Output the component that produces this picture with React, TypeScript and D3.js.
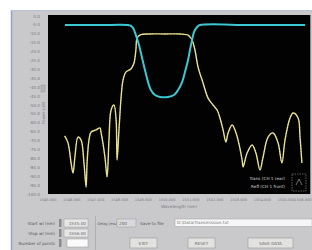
import * as d3 from 'd3';

// wavelength (nm) / power (dB)
const transWl = [1545.71, 1547.18, 1548.36, 1548.48, 1548.57, 1548.69, 1548.82, 1548.95, 1549.07, 1549.2, 1549.32, 1549.49, 1549.7, 1550.04, 1550.29, 1550.46, 1550.63, 1550.75, 1550.88, 1550.96, 1551.05, 1551.13, 1551.26, 1551.38, 1553.48, 1555.79];
const transDb = [-5.1, -5.1, -5.1, -5.6, -6.7, -10.7, -16.3, -23.6, -30.3, -37.1, -41.6, -44.4, -45.5, -45.5, -44.4, -41.6, -37.1, -31.5, -24.7, -19.1, -13.5, -9.0, -6.2, -5.1, -5.1, -5.1];

const reflWl = [1545.7, 1545.84, 1545.97, 1546.05, 1546.13, 1546.26, 1546.39, 1546.51, 1546.6, 1546.64, 1546.72, 1546.81, 1547.02, 1547.18, 1547.23, 1547.39, 1547.48, 1547.56, 1547.65, 1547.77, 1547.86, 1547.9, 1547.98, 1548.07, 1548.15, 1548.27, 1548.48, 1548.61, 1548.69, 1548.74, 1548.86, 1549.28, 1549.91, 1550.54, 1550.88, 1550.96, 1551.05, 1551.17, 1551.3, 1551.51, 1551.72, 1551.93, 1552.1, 1552.22, 1552.35, 1552.47, 1552.56, 1552.73, 1552.85, 1552.98, 1553.15, 1553.19, 1553.36, 1553.57, 1553.73, 1553.9, 1554.03, 1554.24, 1554.45, 1554.66, 1554.82, 1554.95, 1555.16, 1555.29, 1555.5, 1555.58, 1555.66];
const reflDb = [-67.4, -71.3, -82.6, -88.2, -79.2, -68.0, -69.7, -82.6, -96.1, -82.6, -69.7, -65.2, -64.0, -62.9, -65.7, -79.2, -90.4, -69.7, -52.8, -50.0, -58.4, -80.9, -64.0, -45.5, -36.0, -31.5, -29.8, -26.4, -19.1, -12.4, -10.7, -10.1, -10.1, -10.1, -10.7, -11.8, -13.5, -19.1, -28.7, -37.6, -46.1, -50.0, -52.8, -57.3, -64.0, -70.8, -65.7, -61.2, -64.0, -69.7, -80.9, -84.8, -77.0, -72.5, -77.0, -86.5, -79.2, -68.0, -65.7, -71.3, -82.6, -69.7, -57.3, -54.5, -57.3, -68.0, -82.6];

const xTicks = [1545, 1546, 1547, 1548, 1549, 1550, 1551, 1552, 1553, 1554, 1555, 1556];
const yTicks = d3.range(0, -101, -5);

const legendLabels = ['Trans (CH 1 rear)', 'Refl (CH 1 front)'];

const plot = { left: 48, top: 15, width: 262, height: 179 };

export default function App() {
  const x = d3.scaleLinear().domain([1545, 1556]).range([plot.left, plot.left + plot.width]);
  const y = d3.scaleLinear().domain([0, -100]).range([16, 194]);

  const line = d3.line<[number, number]>()
    .x(d => x(d[0]))
    .y(d => y(d[1]))
    .curve(d3.curveCatmullRom.alpha(0.5));

  const trans = line(transWl.map((w, i) => [w, transDb[i]]) as [number, number][]) || '';
  const refl = line(reflWl.map((w, i) => [w, reflDb[i]]) as [number, number][]) || '';

  const small = { fontFamily: 'DejaVu Sans, sans-serif', fontSize: 4.2, fill: '#7a7a80' };
  const btn = (bx: number, w: number, label: string) => (
    <g key={label}>
      <rect x={bx} y={238} width={w} height={10} fill="#e2e2e0" stroke="#9a9a9a" strokeWidth={0.6} />
      <text x={bx + w / 2} y={244.5} textAnchor="middle" {...small} fill="#666">{label}</text>
    </g>
  );

  return (
    <svg width={312} height={250} style={{ position: 'absolute', left: 0, top: 0 }}>
      <rect width={312} height={250} fill="#ffffff" />
      {/* panel */}
      <rect x={11} y={10} width={301} height={240} fill="#c9c9cc" />
      <line x1={11.5} y1={10} x2={11.5} y2={250} stroke="#8ea3c6" strokeWidth={1.5} />
      <line x1={11} y1={10.5} x2={312} y2={10.5} stroke="#b7c2d6" strokeWidth={1} />

      {/* plot area */}
      <rect x={plot.left} y={plot.top} width={plot.width} height={plot.height} fill="#020203" />
      <line x1={310.5} y1={15} x2={310.5} y2={194} stroke="#8b8b8f" strokeWidth={1} />

      {yTicks.map(t => (
        <text key={t} x={40} y={y(t) + 1.5} textAnchor="end" {...small}>{t.toFixed(1)}</text>
      ))}
      <rect x={41} y={85} width={4} height={7} fill="#b5b5b8" stroke="#8a8a8a" strokeWidth={0.4} />
      <text transform="translate(44.5,113) rotate(-90)" textAnchor="middle" {...small}>Power (dB)</text>

      {xTicks.map((t, i) => (
        <text key={t} x={i === xTicks.length - 1 ? 311.5 : x(t)} y={200.5}
          textAnchor={i === xTicks.length - 1 ? 'end' : 'middle'} {...small} fontSize={3.6}>{t.toFixed(3)}</text>
      ))}
      <text x={179} y={208} textAnchor="middle" {...small}>Wavelength (nm)</text>

      {/* curves */}
      <path d={refl} fill="none" stroke="#e4dc86" strokeWidth={1.4} strokeLinejoin="round" />
      <path d={refl} fill="none" stroke="#f4f0c0" strokeWidth={0.6} strokeDasharray="1 2" />
      <path d={trans} fill="none" stroke="#3cc8d2" strokeWidth={2} strokeLinejoin="round" />

      {/* legend */}
      {legendLabels.map((l, i) => (
        <text key={l} x={285} y={180 + i * 8} textAnchor="end" {...small} fill="#d8d8d8">{l}</text>
      ))}
      <rect x={292} y={174} width={14} height={17} fill="none" stroke="#9a9a9a" strokeWidth={0.6} strokeDasharray="1.5 1" />
      <path d="M296,185 L299,179 L302,185" fill="none" stroke="#bbb" strokeWidth={0.6} />

      {/* controls */}
      <line x1={95.5} y1={216} x2={95.5} y2={250} stroke="#a8a8aa" strokeWidth={0.8} />
      <text x={55} y={224.5} textAnchor="end" {...small} fill="#555">Start wl (nm)</text>
      <text x={55} y={234.5} textAnchor="end" {...small} fill="#555">Stop wl (nm)</text>
      <text x={55} y={244.5} textAnchor="end" {...small} fill="#555">Number of points</text>
      {[219, 229, 239].map(yy => (
        <rect key={yy} x={59} y={yy} width={2.5} height={8} fill="#8a8a8a" />
      ))}
      <rect x={64} y={219} width={24} height={8} fill="#e6e6e6" stroke="#9a9a9a" strokeWidth={0.5} />
      <text x={86} y={224.5} textAnchor="end" {...small} fill="#666">1545.00</text>
      <rect x={64} y={229} width={24} height={8} fill="#e6e6e6" stroke="#9a9a9a" strokeWidth={0.5} />
      <text x={86} y={234.5} textAnchor="end" {...small} fill="#666">1556.00</text>
      <rect x={67} y={239} width={21} height={8} fill="#fafafa" stroke="#9a9a9a" strokeWidth={0.5} />

      <text x={97.5} y={224.5} {...small} fontSize={3.6} fill="#555">Delay (ms)</text>
      <rect x={117} y={219} width={19} height={8} fill="#d8d8d8" stroke="#9a9a9a" strokeWidth={0.5} />
      <text x={119} y={224.5} {...small} fill="#666">200</text>
      <text x={140} y={224.5} {...small} fill="#555">Save to file</text>
      <rect x={175} y={219} width={137} height={7.5} fill="#f6f6f6" stroke="#a0a0a0" strokeWidth={0.5} />
      <text x={177} y={224.3} {...small} fill="#777">D:\Data\Transmission.txt</text>

      {btn(130, 27, 'EXIT')}
      {btn(188, 27, 'RESET')}
      {btn(248, 45, 'SAVE DATA')}
    </svg>
  );
}
